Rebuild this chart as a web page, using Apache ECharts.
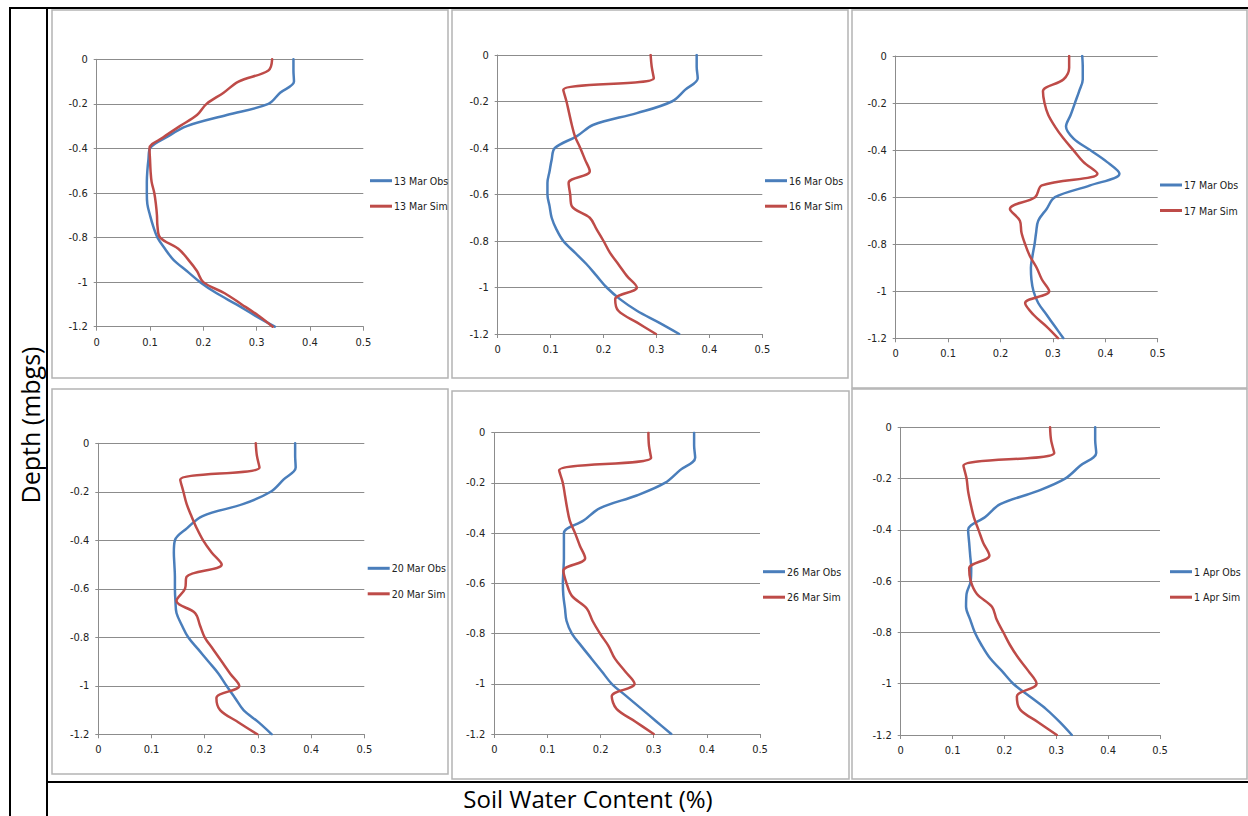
<!DOCTYPE html>
<html>
<head>
<meta charset="utf-8">
<script src="https://cdn.jsdelivr.net/npm/echarts@6/dist/echarts.min.js"></script>
<style>
html,body{margin:0;padding:0;background:#fff;}
#chart{width:1248px;height:816px;}
</style>
</head>
<body>
<div id="chart"></div>
<script>
// ---- DATA ----
const depths = [0,-0.05,-0.1,-0.15,-0.2,-0.25,-0.3,-0.35,-0.4,-0.45,-0.5,-0.55,-0.6,-0.65,-0.7,-0.75,-0.8,-0.85,-0.9,-0.95,-1,-1.05,-1.1,-1.15,-1.2];
const panelNames = ['13 Mar','16 Mar','17 Mar','20 Mar','26 Mar','1 Apr'];
const obs13 = [0.369,0.369,0.37,0.344,0.322,0.244,0.169,0.131,0.1,0.097,0.095,0.094,0.094,0.095,0.1,0.106,0.114,0.128,0.144,0.169,0.194,0.225,0.262,0.297,0.334];
const sim13 = [0.329,0.322,0.266,0.238,0.206,0.188,0.156,0.125,0.099,0.1,0.101,0.103,0.108,0.111,0.113,0.114,0.119,0.153,0.172,0.188,0.2,0.24,0.272,0.303,0.33];
const obs16 = [0.376,0.376,0.378,0.354,0.329,0.263,0.181,0.149,0.108,0.102,0.098,0.094,0.094,0.098,0.102,0.111,0.124,0.146,0.168,0.187,0.206,0.231,0.263,0.304,0.343];
const sim16 = [0.289,0.291,0.295,0.124,0.13,0.135,0.14,0.146,0.156,0.165,0.174,0.134,0.137,0.14,0.174,0.187,0.2,0.212,0.228,0.244,0.263,0.222,0.228,0.263,0.299];
const obs17 = [0.356,0.357,0.357,0.35,0.342,0.334,0.325,0.339,0.371,0.403,0.427,0.371,0.304,0.288,0.272,0.268,0.265,0.261,0.258,0.259,0.263,0.272,0.288,0.304,0.32];
const sim17 = [0.331,0.331,0.32,0.281,0.284,0.291,0.304,0.32,0.339,0.358,0.385,0.279,0.266,0.218,0.237,0.24,0.247,0.256,0.269,0.279,0.293,0.247,0.263,0.288,0.31];
const obs20 = [0.37,0.37,0.371,0.348,0.324,0.273,0.196,0.167,0.144,0.142,0.143,0.144,0.144,0.145,0.147,0.157,0.169,0.188,0.207,0.226,0.241,0.257,0.273,0.301,0.326];
const sim20 = [0.296,0.298,0.303,0.154,0.16,0.166,0.175,0.185,0.197,0.213,0.232,0.166,0.163,0.147,0.182,0.191,0.2,0.216,0.232,0.248,0.265,0.222,0.229,0.263,0.299];
const obs26 = [0.376,0.376,0.378,0.349,0.321,0.268,0.199,0.168,0.131,0.131,0.131,0.13,0.129,0.13,0.133,0.136,0.146,0.164,0.183,0.202,0.221,0.249,0.277,0.305,0.333];
const sim26 = [0.29,0.291,0.295,0.122,0.129,0.133,0.137,0.142,0.152,0.161,0.171,0.13,0.136,0.146,0.174,0.185,0.199,0.215,0.227,0.246,0.264,0.221,0.23,0.265,0.3];
const obs01 = [0.375,0.375,0.377,0.346,0.317,0.262,0.192,0.163,0.13,0.132,0.134,0.136,0.135,0.127,0.126,0.134,0.143,0.156,0.172,0.195,0.217,0.249,0.281,0.307,0.33];
const sim01 = [0.288,0.29,0.296,0.121,0.127,0.13,0.135,0.141,0.15,0.159,0.171,0.132,0.135,0.147,0.176,0.185,0.198,0.211,0.227,0.246,0.262,0.224,0.23,0.265,0.301];
const xTicks = [0,0.1,0.2,0.3,0.4,0.5];
const yTicks = [0,-0.2,-0.4,-0.6,-0.8,-1,-1.2];
const obsSets = [obs13,obs16,obs17,obs20,obs26,obs01];
const simSets = [sim13,sim16,sim17,sim20,sim26,sim01];

// ---- LAYOUT ----
const grids = [
  {l:96.7, r:363.3, t:59.3, b:326.7},
  {l:497.7, r:762.3, t:55, b:334},
  {l:895.7, r:1157.7, t:56, b:338.3},
  {l:98.3, r:364.3, t:443.3, b:734.3},
  {l:494.3, r:760, t:432.7, b:734},
  {l:900.7, r:1160, t:427.3, b:735}
];
const legendPos = [
  {x:370, y:180.7},{x:765, y:180.7},{x:1160, y:185},
  {x:367.7, y:568.3},{x:763, y:571.7},{x:1170, y:571.7}
];
const frames = [
  [52,10,448,378],[452,10,848,378],[852,10,1247,388],
  [52,389,448,774],[452,391,849,779],[852,389,1247,779]
];
const OBS_COLOR = '#4A7EBB', SIM_COLOR = '#BE4B48';
const smallFont = "'Liberation Sans Narrow','DejaVu Sans Condensed','Roboto',sans-serif";
const bigFont = "'Open Sans','Noto Sans',sans-serif";

const option = {
  animation:false,
  backgroundColor:'#fff',
  grid:[], xAxis:[], yAxis:[], series:[], legend:[],
  graphic:{elements:[]}
};

grids.forEach((g,i)=>{
  option.grid.push({left:g.l, top:g.t, width:g.r-g.l, height:g.b-g.t, containLabel:false, outerBoundsMode:'none'});
  option.xAxis.push({
    type:'value', gridIndex:i, min:xTicks[0], max:xTicks[xTicks.length-1], interval:0.1,
    axisLine:{show:true, onZero:false, lineStyle:{color:'#8c8c8c', width:1}},
    axisTick:{show:true, length:4, lineStyle:{color:'#8c8c8c'}},
    splitLine:{show:false},
    axisLabel:{color:'#222', fontFamily:smallFont, fontSize:11, margin:10,
      formatter:v=>String(Math.round(v*10)/10)}
  });
  option.yAxis.push({
    type:'value', gridIndex:i, min:yTicks[yTicks.length-1], max:yTicks[0], interval:0.2,
    axisLine:{show:true, onZero:false, lineStyle:{color:'#8c8c8c', width:1}},
    axisTick:{show:true, length:3, lineStyle:{color:'#8c8c8c'}},
    splitLine:{show:true, lineStyle:{color:'#8c8c8c', width:1}},
    axisLabel:{color:'#222', fontFamily:smallFont, fontSize:11, margin:9,
      formatter:v=>String(Math.round(v*10)/10)}
  });
  const nObs = panelNames[i]+' Obs', nSim = panelNames[i]+' Sim';
  const mk = (name, vals, color)=>({
    name, type:'line', xAxisIndex:i, yAxisIndex:i,
    data: vals.map((v,k)=>[v, depths[k]]),
    showSymbol:false, smooth:0.35,
    lineStyle:{color, width:2.5, join:'round', cap:'round'}, itemStyle:{color}
  });
  option.series.push(mk(nObs, obsSets[i], OBS_COLOR));
  option.series.push(mk(nSim, simSets[i], SIM_COLOR));
  const lp = legendPos[i];
  option.legend.push({
    data:[nObs, nSim], orient:'vertical', left:lp.x, top:lp.y-6,
    icon:'rect', itemWidth:22, itemHeight:3, itemGap:13.5,
    textStyle:{fontFamily:smallFont, fontSize:10.5, color:'#222', lineHeight:12, padding:[0,0,0,-3]},
    padding:0, selectedMode:false
  });
  const f = frames[i];
  option.graphic.elements.push({type:'rect', shape:{x:f[0], y:f[1], width:f[2]-f[0], height:f[3]-f[1]},
    style:{fill:'none', stroke:'#b4b4b4', lineWidth:1.5}, z:0, silent:true});
});

// table lines
const blk = {stroke:'#000', lineWidth:2};
option.graphic.elements.push(
  {type:'line', shape:{x1:9, y1:8, x2:1248, y2:8}, style:blk, silent:true},
  {type:'line', shape:{x1:10, y1:7, x2:10, y2:816}, style:blk, silent:true},
  {type:'line', shape:{x1:47, y1:7, x2:47, y2:816}, style:blk, silent:true},
  {type:'line', shape:{x1:47, y1:782, x2:1248, y2:782}, style:blk, silent:true},
  {type:'text', x:30, y:425, rotation:Math.PI/2,
    style:{text:'Depth (mbgs)', fill:'#000', font:"25px "+bigFont, align:'center', verticalAlign:'middle'}, silent:true},
  {type:'text', x:588, y:798,
    style:{text:'Soil Water Content (%)', fill:'#000', font:"24px "+bigFont, align:'center', verticalAlign:'middle'}, silent:true}
);

const chart = echarts.init(document.getElementById('chart'), null, {renderer:'svg'});
chart.setOption(option);
</script>
</body>
</html>
